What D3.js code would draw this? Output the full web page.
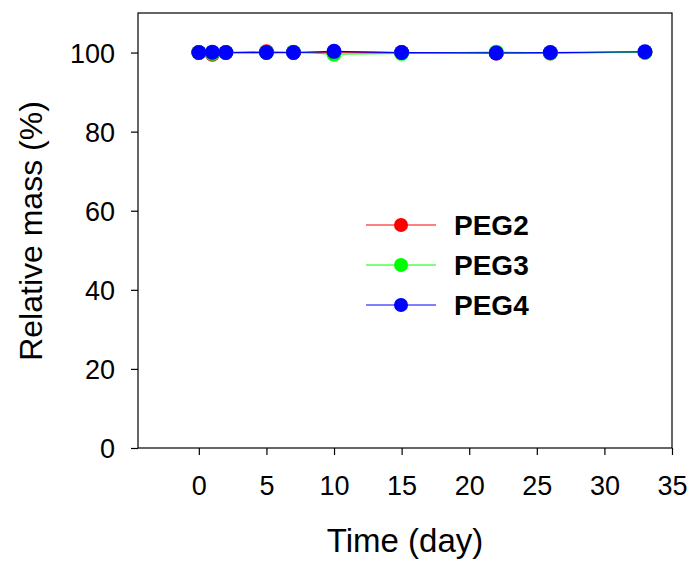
<!DOCTYPE html>
<html>
<head>
<meta charset="utf-8">
<script src="https://cdn.jsdelivr.net/npm/d3@7"></script>
<style>
  body { margin: 0; background: #fff; }
  svg { font-family: "Liberation Sans", Arial, sans-serif; }
</style>
</head>
<body>
<div id="chart"></div>
<script>
// data
const days = [0, 1, 2, 5, 7, 10, 15, 22, 26, 33];
const peg2 = [100, 99.6, 100, 100.2, 100, 100.1, 100, 99.9, 99.9, 100.1];
const peg3 = [100, 99.8, 100, 100, 100.1, 99.6, 99.8, 100.1, 99.9, 100.1];
const peg4 = [100, 100.1, 100, 100, 100, 100.3, 100, 99.9, 100, 100.2];
const seriesNames = ['PEG2', 'PEG3', 'PEG4'];
const seriesColors = ['#ff0000', '#00ff00', '#0000ff'];
const xTicks = [0, 5, 10, 15, 20, 25, 30, 35];
const yTicks = [0, 20, 40, 60, 80, 100];

const width = 691, height = 562;
const margin = { left: 138, top: 13, right: 19, bottom: 114 };

const svg = d3.select('#chart').append('svg')
    .attr('width', width)
    .attr('height', height);

const x = d3.scaleLinear().domain([-4.5, 35]).range([margin.left, width - margin.right]);
const y = d3.scaleLinear().domain([0, 110]).range([height - margin.bottom, margin.top]);

// frame
svg.append('rect')
    .attr('x', x.range()[0]).attr('y', y.range()[1])
    .attr('width', x.range()[1] - x.range()[0])
    .attr('height', y.range()[0] - y.range()[1])
    .attr('fill', 'none').attr('stroke', '#000').attr('stroke-width', 1.2);

const xAxis = svg.append('g')
    .attr('transform', 'translate(0,' + y(0) + ')')
    .call(d3.axisBottom(x).tickValues(xTicks).tickSize(7).tickPadding(21).tickSizeOuter(0));
const yAxis = svg.append('g')
    .attr('transform', 'translate(' + x.range()[0] + ',0)')
    .call(d3.axisLeft(y).tickValues(yTicks).tickSize(7).tickPadding(16).tickSizeOuter(0));

[xAxis, yAxis].forEach(function(g) {
    g.select('.domain').remove();
    g.selectAll('line').attr('stroke', '#000').attr('stroke-width', 1.2);
    g.selectAll('text').attr('font-size', 27).attr('fill', '#000')
        .attr('font-family', '"Liberation Sans", Arial, sans-serif');
});
yAxis.selectAll('text').attr('dy', '0.36em');

// axis titles
svg.append('text').text('Time (day)')
    .attr('x', 405).attr('y', 552)
    .attr('text-anchor', 'middle').attr('font-size', 33);
svg.append('text').text('Relative mass (%)')
    .attr('transform', 'translate(42,231) rotate(-90)')
    .attr('text-anchor', 'middle').attr('font-size', 32);

// series
const series = [peg2, peg3, peg4];
const line = d3.line().x((d, i) => x(days[i])).y(d => y(d));

series.forEach(function(vals, k) {
    svg.append('path')
        .datum(vals)
        .attr('d', line)
        .attr('fill', 'none')
        .attr('stroke', seriesColors[k])
        .attr('stroke-width', 1.2);
});
series.forEach(function(vals, k) {
    svg.append('g').selectAll('circle').data(vals)
        .enter()
        .append('circle')
        .attr('cx', (d, i) => x(days[i]))
        .attr('cy', d => y(d))
        .attr('r', 7.5)
        .attr('fill', seriesColors[k]);
});

// legend
const legend = svg.append('g');
seriesNames.forEach(function(name, k) {
    const ly = 225 + k * 40;
    legend.append('line')
        .attr('x1', 366).attr('x2', 436)
        .attr('y1', ly).attr('y2', ly)
        .attr('stroke', seriesColors[k]).attr('stroke-width', 1.2);
    legend.append('circle')
        .attr('cx', 401).attr('cy', ly).attr('r', 7)
        .attr('fill', seriesColors[k]);
    legend.append('text').text(name)
        .attr('x', 454).attr('y', ly).attr('dy', '0.36em')
        .attr('font-size', 28).attr('font-weight', 'bold');
});
</script>
</body>
</html>
